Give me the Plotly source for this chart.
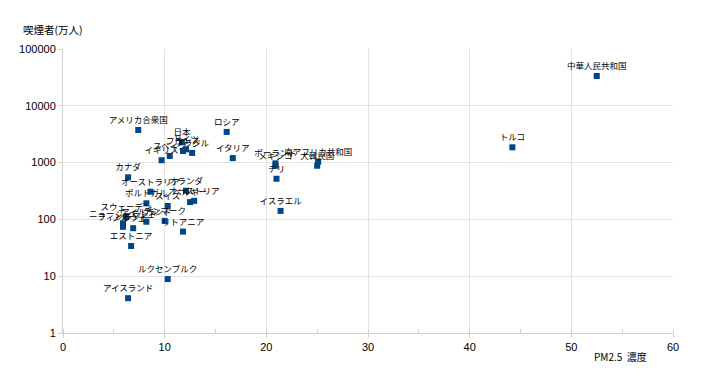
import plotly.graph_objects as go

countries = ["中華人民共和国", "トルコ", "アメリカ合衆国", "ロシア", "イタリア", "日本",
             "フランス", "ドイツ", "ブラジル", "スペイン", "イギリス", "カナダ",
             "オーストラリア", "オランダ", "ポルトガル", "スイス", "ベルギー", "オーストリア",
             "スウェーデン", "ニュージーランド", "フィンランド", "ノルウェー", "アイルランド",
             "デンマーク", "リトアニア", "エストニア", "ルクセンブルク", "アイスランド",
             "ポーランド", "メキシコ", "チリ", "イスラエル", "南アフリカ共和国", "大韓民国"]
pm25 = [52.5, 44.2, 7.4, 16.1, 16.7, 11.7,
        11.8, 12.1, 12.7, 10.5, 9.7, 6.4,
        8.6, 12.1, 8.2, 10.3, 12.5, 12.9,
        6.2, 5.9, 5.9, 6.9, 8.2,
        10.0, 11.8, 6.7, 10.3, 6.4,
        20.9, 20.9, 21.0, 21.4, 25.1, 25.0]
smokers = [33500, 1860, 3750, 3470, 1200, 2280,
           1600, 1710, 1480, 1310, 1100, 550,
           307, 320, 192, 172, 202, 212,
           110, 85, 74, 70, 91,
           94, 61, 34, 8.9, 4.1,
           970, 880, 520, 141, 1040, 880]

y_tickvals = [1, 10, 100, 1000, 10000, 100000]
y_ticktext = ["1", "10", "100", "1000", "10000", "100000"]
x_tickvals = [0, 10, 20, 30, 40, 50, 60]

# page offset of 8px (body margin) taken into account
OFF = 8
W, H = 720, 390
L, T = 63 - OFF, 49 - OFF
R = W - (673 - OFF)
B = H - (333 - OFF)
pw, ph = W - L - R, H - T - B


def px_to_paper(x, y):
    x -= OFF
    y -= OFF
    return (x - L) / pw, 1 - (y - T) / ph


fig = go.Figure()
fig.add_trace(go.Scatter(
    x=pm25, y=smokers, text=countries, mode="markers+text",
    textposition="top center",
    textfont=dict(family="Noto Sans CJK JP", size=8.5, color="#000000"),
    marker=dict(symbol="square", size=6, color="#004586"),
    cliponaxis=False, showlegend=False,
))

ax1 = px_to_paper(21, 29)
ax2 = px_to_paper(620, 356)

fig.update_layout(
    width=W, height=H,
    margin=dict(l=L, r=R, t=T, b=B),
    plot_bgcolor="white", paper_bgcolor="white",
    font=dict(family="Liberation Sans, Noto Sans CJK JP", size=11, color="#000000"),
    xaxis=dict(range=[0, 60], tickvals=x_tickvals, showgrid=True, gridcolor="#e3e3e3",
               gridwidth=1, zeroline=False, showline=True, linecolor="#d0d0d0",
               ticks="outside", ticklen=4, tickcolor="#d0d0d0", automargin=False,
               minor=dict(dtick=5, ticks="inside", ticklen=4, tickcolor="#d0d0d0", showgrid=False),
               tickfont=dict(size=11)),
    yaxis=dict(type="log", range=[0, 5], tickvals=y_tickvals, ticktext=y_ticktext,
               showgrid=True, gridcolor="#e3e3e3", gridwidth=1, zeroline=False,
               showline=True, linecolor="#d0d0d0", ticks="outside", ticklen=4,
               tickcolor="#d0d0d0", automargin=False, tickfont=dict(size=11)),
    annotations=[
        dict(text="喫煙者(万人)", x=ax1[0], y=ax1[1], xref="paper", yref="paper",
             showarrow=False, font=dict(family="Noto Sans CJK JP", size=10.5, color="#000000"),
             xanchor="left", yanchor="middle"),
        dict(text="PM2.5  濃度", x=ax2[0], y=ax2[1], xref="paper", yref="paper",
             showarrow=False, font=dict(family="Noto Sans CJK JP", size=10, color="#000000"),
             xanchor="center", yanchor="middle"),
    ],
)

fig.write_html("out.html")
